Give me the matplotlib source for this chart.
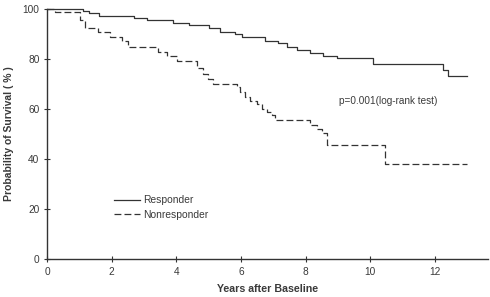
# -*- coding: utf-8 -*-

import matplotlib
matplotlib.use("Agg")
import matplotlib.pyplot as plt

plt.rcParams['font.family'] = ['Liberation Sans', 'DejaVu Sans']

# Kaplan-Meier estimates (years, % surviving)
resp_t = [0, 1.1, 1.3, 1.6, 2.7, 3.1, 3.9, 4.4, 5.0, 5.36, 5.82, 6.04, 6.75,
          7.15, 7.43, 7.74, 8.14, 8.54, 8.98, 10.08, 12.26, 12.4, 13.0]
resp_s = [100, 99.3, 98.3, 97.2, 96.3, 95.5, 94.5, 93.5, 92.5, 90.9, 89.8, 88.8, 87.2,
          86.4, 84.8, 83.7, 82.5, 81.3, 80.4, 78.0, 75.6, 73.2, 73.2]

nonresp_t = [0, 0.25, 1.02, 1.18, 1.58, 1.95, 2.32, 2.5, 3.44, 3.72, 4.02, 4.64,
             4.83, 4.98, 5.14, 5.88, 5.98, 6.13, 6.28, 6.5, 6.66, 6.81, 6.97, 7.06,
             8.14, 8.36, 8.51, 8.67, 10.46, 13.0]
nonresp_s = [100, 98.7, 95.6, 92.5, 90.6, 88.8, 87.0, 84.8, 82.9, 81.0, 79.2, 76.5,
             74.0, 72.0, 70.0, 68.8, 66.8, 64.8, 63.2, 62.0, 60.0, 58.8, 57.6, 55.6,
             53.6, 52.0, 50.4, 45.6, 38.0, 38.0]

line_col = "#333333"
text_col = "#3a3a3a"

fig = plt.figure(figsize=(4.9, 2.97), dpi=100)
ax = fig.add_axes([0.096, 0.128, 0.900, 0.842])

ax.step(resp_t, resp_s, where="post", color=line_col, lw=0.9,
        label="Responder", clip_on=False)
ax.step(nonresp_t, nonresp_s, where="post", color=line_col, lw=0.9,
        dashes=(5.5, 2.5), label="Nonresponder", clip_on=False)

ax.set_xlim(0, 13.65)
ax.set_ylim(0, 100)
ax.set_xticks(range(0, 13, 2))
ax.set_yticks(range(0, 101, 20))

for side in ("top", "right"):
    ax.spines[side].set_visible(False)
for side in ("left", "bottom"):
    ax.spines[side].set_color(line_col)
    ax.spines[side].set_linewidth(1.0)

ax.tick_params(direction="inout", length=5, width=0.8, colors=line_col,
               labelcolor=text_col, labelsize=7.3, pad=3)

ax.set_xlabel("Years after Baseline", fontsize=7.7, fontweight="bold",
              color=text_col, labelpad=5)
ax.set_ylabel("Probability of Survival ( % )", fontsize=7.5, fontweight="bold",
              color=text_col, labelpad=6)

ax.text(9.05, 63, "p=0.001(log-rank test)", fontsize=7.2, color=text_col,
        va="center", ha="left")

ax.legend(frameon=False, loc="center left", bbox_to_anchor=(0.13, 0.205),
          fontsize=7.4, handlelength=2.6, handletextpad=0.25,
          labelspacing=0.45, labelcolor=text_col)

fig.savefig("out.png", dpi=100)
